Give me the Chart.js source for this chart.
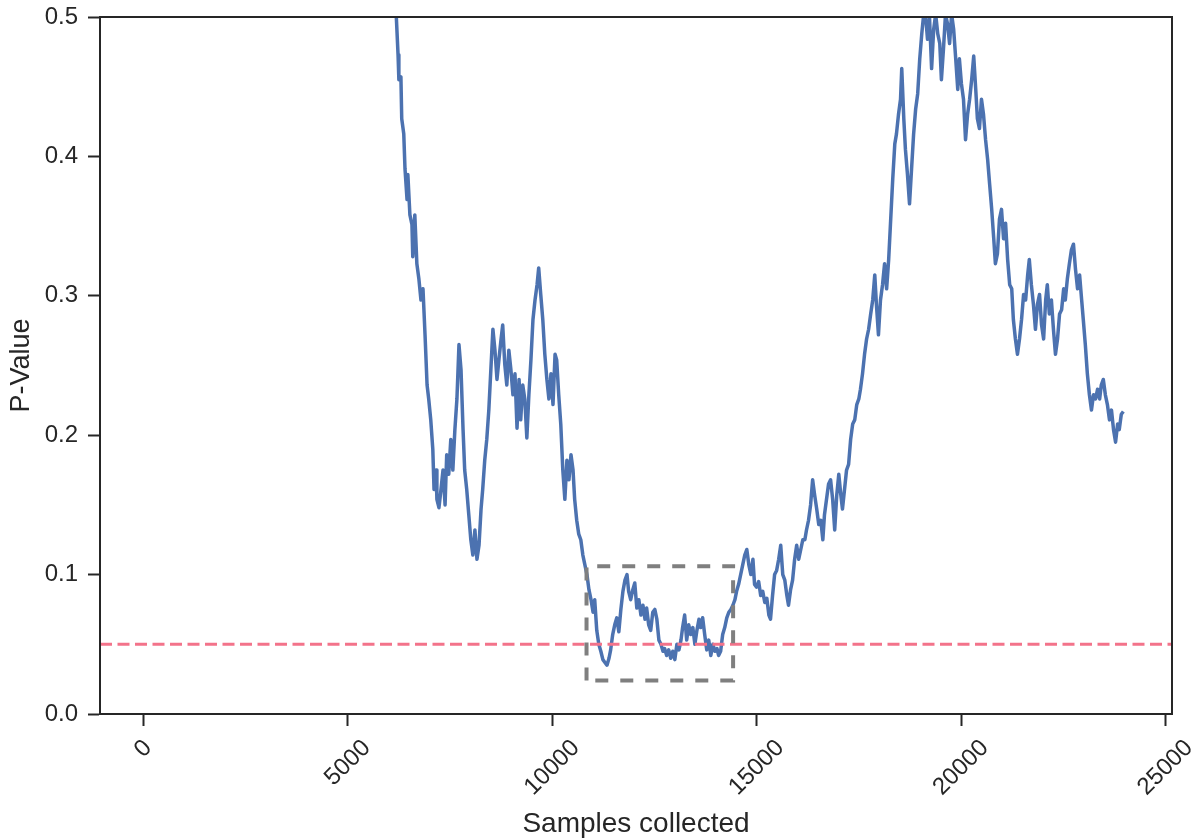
<!DOCTYPE html>
<html>
<head>
<meta charset="utf-8">
<script src="https://cdn.jsdelivr.net/npm/chart.js@4.4.1/dist/chart.umd.min.js"></script>
<style>
  html, body { margin: 0; padding: 0; background: #ffffff; }
  #wrap { width: 1198px; height: 838px; }
</style>
</head>
<body>
<div id="wrap"><canvas id="grafica" width="1198" height="838"></canvas></div>
<script>
/* P-value vs. samples collected — línea con umbral 0.05 y recuadro de zoom */

// ── Datos ───────────────────────────────────────────────────────────────────
const samples = [
  6130, 6180, 6230, 6250, 6300, 6320, 6370, 6400, 6450, 6470, 6520, 6570, 6590, 6640, 6690,
  6740, 6790, 6840, 6890, 6940, 6980, 7030, 7080, 7110, 7160, 7180, 7230, 7280, 7330, 7380,
  7420, 7470, 7520, 7570, 7620, 7670, 7720, 7770, 7820, 7860, 7910, 7960, 8010, 8060, 8110,
  8160, 8210, 8260, 8300, 8350, 8400, 8450, 8500, 8550, 8600, 8650, 8700, 8750, 8790, 8840,
  8890, 8940, 8990, 9040, 9090, 9140, 9190, 9230, 9280, 9330, 9380, 9430, 9480, 9530, 9580,
  9630, 9670, 9720, 9770, 9820, 9870, 9920, 9970, 10020, 10070, 10110, 10160, 10210, 10260, 10310,
  10360, 10410, 10460, 10510, 10550, 10600, 10650, 10700, 10750, 10800, 10850, 10900, 10950, 11000, 11040,
  11090, 11140, 11190, 11240, 11290, 11340, 11390, 11430, 11480, 11530, 11580, 11630, 11680, 11730, 11780,
  11830, 11870, 11920, 11970, 12020, 12070, 12120, 12170, 12220, 12270, 12310, 12360, 12410, 12460, 12510,
  12560, 12610, 12660, 12710, 12750, 12800, 12850, 12900, 12950, 13000, 13050, 13100, 13150, 13190, 13240,
  13290, 13340, 13390, 13440, 13490, 13540, 13590, 13630, 13680, 13730, 13780, 13830, 13880, 13930, 13980,
  14030, 14070, 14120, 14170, 14220, 14270, 14320, 14370, 14420, 14470, 14510, 14560, 14610, 14660, 14710,
  14760, 14810, 14860, 14910, 14950, 15000, 15050, 15100, 15150, 15200, 15250, 15300, 15340, 15390, 15440,
  15490, 15540, 15590, 15640, 15690, 15740, 15780, 15830, 15880, 15930, 15980, 16030, 16080, 16130, 16180,
  16220, 16270, 16320, 16370, 16420, 16470, 16520, 16570, 16620, 16660, 16710, 16760, 16810, 16860, 16910,
  16960, 17010, 17060, 17100, 17150, 17200, 17250, 17300, 17350, 17400, 17450, 17500, 17540, 17590, 17640,
  17690, 17740, 17790, 17840, 17890, 17930, 17980, 18030, 18080, 18130, 18180, 18230, 18280, 18330, 18380,
  18420, 18470, 18520, 18550, 18600, 18640, 18690, 18740, 18790, 18840, 18890, 18940, 18990, 19040, 19080,
  19130, 19180, 19230, 19280, 19330, 19380, 19430, 19480, 19520, 19570, 19620, 19670, 19720, 19770, 19820,
  19870, 19920, 19960, 20010, 20060, 20110, 20160, 20210, 20260, 20310, 20360, 20400, 20450, 20500, 20550,
  20600, 20650, 20700, 20750, 20800, 20840, 20890, 20940, 20990, 21040, 21090, 21140, 21190, 21240, 21280,
  21330, 21380, 21430, 21480, 21530, 21580, 21630, 21670, 21720, 21770, 21820, 21870, 21920, 21970, 22020,
  22070, 22110, 22160, 22210, 22260, 22310, 22360, 22410, 22460, 22510, 22550, 22600, 22650, 22700, 22750,
  22800, 22850, 22900, 22950, 22990, 23040, 23090, 23140, 23190, 23240, 23290, 23340, 23390, 23430, 23480,
  23530, 23580, 23630, 23680, 23730, 23780, 23830, 23870, 23920, 23970
];

const pValues = [
  0.545, 0.505, 0.473, 0.455, 0.457, 0.427, 0.416, 0.391, 0.369, 0.387, 0.358, 0.351, 0.328, 0.358, 0.323,
  0.312, 0.297, 0.305, 0.272, 0.236, 0.226, 0.211, 0.190, 0.161, 0.175, 0.154, 0.148, 0.161, 0.175, 0.150,
  0.186, 0.172, 0.197, 0.175, 0.204, 0.226, 0.265, 0.247, 0.204, 0.175, 0.161, 0.143, 0.125, 0.114, 0.132,
  0.111, 0.121, 0.147, 0.161, 0.182, 0.197, 0.218, 0.247, 0.276, 0.261, 0.240, 0.255, 0.269, 0.279, 0.251,
  0.236, 0.261, 0.247, 0.229, 0.244, 0.205, 0.240, 0.211, 0.236, 0.226, 0.198, 0.229, 0.254, 0.283, 0.297,
  0.308, 0.320, 0.301, 0.283, 0.258, 0.240, 0.226, 0.244, 0.222, 0.258, 0.254, 0.229, 0.208, 0.175, 0.154,
  0.182, 0.168, 0.186, 0.175, 0.154, 0.139, 0.129, 0.125, 0.114, 0.107, 0.100, 0.089, 0.082, 0.073, 0.082,
  0.060, 0.050, 0.045, 0.039, 0.037, 0.035, 0.040, 0.046, 0.057, 0.064, 0.069, 0.059, 0.075, 0.088, 0.096,
  0.100, 0.088, 0.082, 0.089, 0.094, 0.076, 0.082, 0.071, 0.078, 0.068, 0.076, 0.064, 0.060, 0.073, 0.075,
  0.068, 0.053, 0.050, 0.045, 0.047, 0.042, 0.046, 0.040, 0.045, 0.039, 0.050, 0.046, 0.053, 0.062, 0.071,
  0.053, 0.064, 0.057, 0.062, 0.050, 0.060, 0.068, 0.062, 0.069, 0.057, 0.046, 0.053, 0.042, 0.050, 0.045,
  0.047, 0.042, 0.045, 0.057, 0.062, 0.069, 0.073, 0.075, 0.078, 0.082, 0.088, 0.093, 0.100, 0.107, 0.114,
  0.118, 0.107, 0.100, 0.111, 0.093, 0.091, 0.095, 0.085, 0.088, 0.080, 0.083, 0.071, 0.068, 0.085, 0.100,
  0.103, 0.111, 0.121, 0.100, 0.096, 0.085, 0.078, 0.089, 0.096, 0.111, 0.121, 0.111, 0.118, 0.125, 0.125,
  0.132, 0.139, 0.150, 0.168, 0.157, 0.147, 0.136, 0.139, 0.125, 0.143, 0.154, 0.165, 0.168, 0.154, 0.132,
  0.157, 0.172, 0.157, 0.147, 0.161, 0.175, 0.179, 0.197, 0.208, 0.211, 0.222, 0.226, 0.233, 0.244, 0.258,
  0.269, 0.276, 0.287, 0.297, 0.315, 0.294, 0.272, 0.297, 0.308, 0.323, 0.305, 0.326, 0.355, 0.384, 0.409,
  0.416, 0.430, 0.441, 0.463, 0.427, 0.405, 0.387, 0.366, 0.391, 0.416, 0.434, 0.445, 0.470, 0.488, 0.500,
  0.502, 0.484, 0.499, 0.463, 0.491, 0.502, 0.488, 0.481, 0.455, 0.477, 0.502, 0.495, 0.481, 0.502, 0.491,
  0.470, 0.448, 0.470, 0.452, 0.441, 0.412, 0.430, 0.441, 0.455, 0.472, 0.448, 0.427, 0.420, 0.441, 0.430,
  0.412, 0.398, 0.380, 0.362, 0.341, 0.323, 0.330, 0.355, 0.362, 0.341, 0.352, 0.326, 0.308, 0.305, 0.283,
  0.269, 0.258, 0.269, 0.283, 0.301, 0.297, 0.315, 0.326, 0.308, 0.294, 0.276, 0.294, 0.301, 0.279, 0.269,
  0.297, 0.308, 0.287, 0.297, 0.276, 0.258, 0.269, 0.287, 0.290, 0.305, 0.297, 0.312, 0.323, 0.333, 0.337,
  0.319, 0.305, 0.315, 0.297, 0.283, 0.265, 0.244, 0.229, 0.218, 0.229, 0.226, 0.233, 0.226, 0.236, 0.240,
  0.229, 0.222, 0.211, 0.218, 0.204, 0.195, 0.208, 0.204, 0.215, 0.217
];

const xLimits     = [-1060, 25160];
const yLimits     = [0, 0.5];
const xTickValues = [0, 5000, 10000, 15000, 20000, 25000];
const yTickValues = [0, 0.1, 0.2, 0.3, 0.4, 0.5];
const alphaLevel  = 0.05;            // umbral de significancia
const zoomBoxX    = [10840, 14425];  // recuadro gris punteado
const zoomBoxY    = [0.024, 0.106];

// ── Estilo ──────────────────────────────────────────────────────────────────
const INK   = "#262626";
const FONT  = "'Liberation Sans', Arial, Helvetica, sans-serif";
const BLUE  = "#4c72b0";
const PINK  = "#f3738a";
const GREY  = "#7f7f7f";

// Marco completo (spines) encima de las series
const framePlugin = {
  id: "frame",
  afterDatasetsDraw(chart) {
    const { ctx, chartArea: a } = chart;
    ctx.save();
    ctx.strokeStyle = INK;
    ctx.lineWidth = 2;
    ctx.strokeRect(a.left, a.top, a.right - a.left, a.bottom - a.top);
    ctx.restore();
  },
};

// Etiquetas del eje x giradas 45°, centradas bajo cada marca (estilo matplotlib)
const xLabelPlugin = {
  id: "xLabels",
  afterDraw(chart) {
    const { ctx, chartArea: a } = chart;
    const sx = chart.scales.x;
    const size = 24;
    ctx.save();
    ctx.font = `${size}px ${FONT}`;
    ctx.fillStyle = INK;
    ctx.textAlign = "center";
    ctx.textBaseline = "middle";
    sx.ticks.forEach(t => {
      const label = String(t.value);
      const w = ctx.measureText(label).width;
      const half = (w + size * 0.72) / (2 * Math.SQRT2);
      const cx = sx.getPixelForValue(t.value);
      const cy = a.bottom + 24 + half;
      ctx.save();
      ctx.translate(cx, cy);
      ctx.rotate(-Math.PI / 4);
      ctx.fillText(label, 0, 0);
      ctx.restore();
    });
    ctx.restore();
  },
};

const mainLine = samples.map((x, i) => ({ x, y: pValues[i] }));
const alphaLine = xLimits.map(x => ({ x, y: alphaLevel }));
const boxLine = [
  { x: zoomBoxX[0], y: zoomBoxY[0] },
  { x: zoomBoxX[0], y: zoomBoxY[1] },
  { x: zoomBoxX[1], y: zoomBoxY[1] },
  { x: zoomBoxX[1], y: zoomBoxY[0] },
  { x: zoomBoxX[0], y: zoomBoxY[0] },
];

new Chart(document.getElementById("grafica"), {
  type: "line",
  data: {
    datasets: [
      {
        data: mainLine,
        borderColor: BLUE,
        borderWidth: 3.5,
        borderJoinStyle: "round",
        pointRadius: 0,
        tension: 0,
        fill: false,
        clip: 0,
        order: 3,
      },
      {
        data: alphaLine,
        borderColor: PINK,
        borderWidth: 3,
        borderDash: [12, 5.5],
        pointRadius: 0,
        fill: false,
        clip: 0,
        order: 2,
      },
      {
        data: boxLine,
        borderColor: GREY,
        borderWidth: 4,
        borderDash: [13, 12],
        pointRadius: 0,
        fill: false,
        clip: 0,
        order: 1,
      },
    ],
  },
  options: {
    responsive: false,
    animation: false,
    events: [],
    layout: { padding: { left: 0, top: 17, right: 26, bottom: 0 } },
    plugins: {
      legend: { display: false },
      tooltip: { enabled: false },
    },
    scales: {
      x: {
        type: "linear",
        min: xLimits[0],
        max: xLimits[1],
        afterBuildTicks: s => { s.ticks = xTickValues.map(v => ({ value: v })); },
        afterFit: s => { s.height = 124; },
        ticks: { display: false },
        grid: {
          drawOnChartArea: false,
          drawTicks: true,
          tickLength: 12,
          tickWidth: 2,
          tickColor: INK,
        },
        border: { display: true, color: INK, width: 2 },
        title: {
          display: true,
          text: "Samples collected",
          color: INK,
          font: { family: FONT, size: 28, lineHeight: 1 },
          padding: { top: 0, bottom: 0 },
        },
      },
      y: {
        type: "linear",
        min: yLimits[0],
        max: yLimits[1],
        afterBuildTicks: s => { s.ticks = yTickValues.map(v => ({ value: v })); },
        afterFit: s => { s.width = 100; },
        ticks: {
          color: INK,
          font: { family: FONT, size: 24, lineHeight: 0.5 },
          padding: 10,
          callback: v => Number(v).toFixed(1),
        },
        grid: {
          drawOnChartArea: false,
          drawTicks: true,
          tickLength: 12,
          tickWidth: 2,
          tickColor: INK,
        },
        border: { display: true, color: INK, width: 2 },
        title: {
          display: true,
          text: "P-Value",
          color: INK,
          font: { family: FONT, size: 27 },
          padding: { top: 5, bottom: 0 },
        },
      },
    },
  },
  plugins: [framePlugin, xLabelPlugin],
});
</script>
</body>
</html>
